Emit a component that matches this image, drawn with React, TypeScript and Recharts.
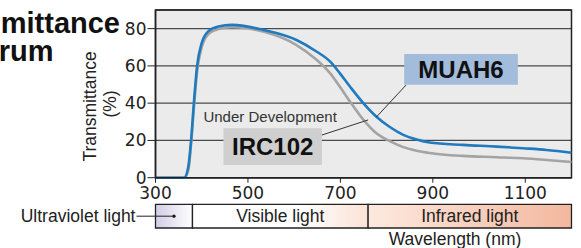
import React from 'react'
import {
  LineChart, Line, XAxis, YAxis, CartesianGrid, ReferenceArea, ReferenceLine,
} from 'recharts'

// wavelength (nm) sampled along the curves
const wavelengths = [300, 362, 371, 377, 383, 390, 400, 414, 436, 465, 533, 605, 649, 678, 699, 721, 750, 778, 807, 836, 865, 893, 965, 1038, 1095, 1146, 1200]
// transmittance (%)
const muah6 = [0, 0, 5.9, 20, 40, 60, 72.3, 78.5, 81.2, 82.0, 79.3, 73.9, 67.6, 62.3, 56, 48.8, 39.9, 32.7, 27.2, 23, 20.5, 18.9, 17.6, 16.7, 15.8, 14.9, 13.4]
const irc102 = [0, 0, 4, 18, 37, 57, 70, 77, 79.8, 80.8, 78.4, 71.2, 63.2, 56, 48.8, 40.8, 31, 23.8, 19.6, 16.4, 14.5, 13.3, 11.7, 11, 10.4, 9.5, 8.4]

const xTicks = [300, 500, 700, 900, 1100]
const yTicks = [0, 20, 40, 60, 80]

// light bands under the axis
const bandNames = ['Ultraviolet light', 'Visible light', 'Infrared light']
const bandStarts = [300, 380, 760]
const bandEnds = [380, 760, 1200]
const bandFills = ['url(#uvGrad)', 'url(#visGrad)', 'url(#irGrad)']

const data = wavelengths.map((nm, i) => ({ nm, muah6: muah6[i], irc102: irc102[i] }))

const SANS = '"Liberation Sans", Arial, sans-serif'
const TICK_FONT = '"DejaVu Sans", sans-serif'

const BandLabel = (name: string, first: boolean) => (props: any) => {
  const { x, y, width, height } = props.viewBox
  const cy = y + height / 2
  if (first) {
    const cx = x + width / 2
    return (
      <g>
        <circle cx={cx} cy={cy} r={1.6} fill="#111" />
        <line x1={x - 19} y1={cy} x2={cx} y2={cy} stroke="#222" strokeWidth={1} />
        <text x={x - 20} y={cy + 6} textAnchor="end" fontFamily={SANS} fontSize={17.5} fill="#222">{name}</text>
      </g>
    )
  }
  return (
    <text x={x + width / 2} y={cy + 6} textAnchor="middle" fontFamily={SANS} fontSize={17.5} fill="#222">{name}</text>
  )
}

const BoxLabel = (name: string, note?: string) => (props: any) => {
  const { x, y, width, height } = props.viewBox
  return (
    <g>
      {note && (
        <text x={x - 20} y={y - 6.6} fontFamily={SANS} fontSize={15} fill="#333">{note}</text>
      )}
      <text x={x + width / 2} y={y + height / 2 + 8.5} textAnchor="middle" fontFamily={SANS} fontWeight="bold" fontSize={24} fill="#111">{name}</text>
    </g>
  )
}

export default function App() {
  return (
    <div style={{ position: 'absolute', left: 0, top: 0, width: 581, height: 248, overflow: 'hidden', background: '#fff' }}>
      <LineChart width={581} height={248} data={data} margin={{ top: 10, right: 9.5, left: 0, bottom: 0 }}>
        <defs>
          <linearGradient id="uvGrad" x1="0" y1="0" x2="1" y2="0">
            <stop offset="0%" stopColor="#d3cde6" />
            <stop offset="100%" stopColor="#ffffff" />
          </linearGradient>
          <linearGradient id="visGrad" x1="0" y1="0" x2="1" y2="0">
            <stop offset="0%" stopColor="#ffffff" />
            <stop offset="60%" stopColor="#ffffff" />
            <stop offset="100%" stopColor="#fbe2d6" />
          </linearGradient>
          <linearGradient id="irGrad" x1="0" y1="0" x2="1" y2="0">
            <stop offset="0%" stopColor="#fde9df" />
            <stop offset="100%" stopColor="#f3b89e" />
          </linearGradient>
        </defs>
        <CartesianGrid vertical={false} fill="#ebebeb" stroke="#4a4a4a" strokeWidth={1.3} />
        <XAxis
          dataKey="nm"
          type="number"
          domain={[300, 1200]}
          ticks={xTicks}
          height={70.3}
          tickSize={5}
          tickMargin={4}
          axisLine={{ stroke: '#222', strokeWidth: 1.5 }}
          tickLine={{ stroke: '#222' }}
          tick={{ fill: '#222', fontSize: 17, fontFamily: TICK_FONT }}
          label={(props: any) => {
            const { x, y, width } = props.viewBox
            return (
              <text x={x + width * 0.72} y={y + 67} textAnchor="middle" fontFamily={SANS} fontSize={17.5} fill="#222">Wavelength (nm)</text>
            )
          }}
        />
        <YAxis
          domain={[0, 90]}
          ticks={yTicks}
          width={155.5}
          tickSize={8}
          tickMargin={1}
          axisLine={{ stroke: '#222', strokeWidth: 1.5 }}
          tickLine={{ stroke: '#222' }}
          tick={{ fill: '#222', fontSize: 17, fontFamily: TICK_FONT }}
          label={(props: any) => {
            const { x, y } = props.viewBox
            return (
              <g fontFamily={SANS} fontSize={17.5} fill="#222" textAnchor="middle">
                <text transform={`translate(${x + 96},${y + 96.5}) rotate(-90)`}>Transmittance</text>
                <text transform={`translate(${x + 116},${y + 94}) rotate(-90)`}>(%)</text>
              </g>
            )
          }}
        />
        <Line dataKey="irc102" type="monotone" stroke="#a4a4a4" strokeWidth={2.6} dot={false} isAnimationActive={false} />
        <Line dataKey="muah6" type="monotone" stroke="#1f7abf" strokeWidth={2.6} dot={false} isAnimationActive={false} />
        <ReferenceArea x1={300} x2={1200} y1={0} y2={90} fill="none" stroke="#222" strokeWidth={1.5} ifOverflow="visible" />
        <ReferenceArea x1={447} x2={660} y1={6.8} y2={26.5} fill="#cfcfcf" fillOpacity={1} ifOverflow="visible" label={BoxLabel('IRC102', 'Under Development')} />
        <ReferenceArea x1={838} x2={1084} y1={49.9} y2={66.4} fill="#a3bcdc" fillOpacity={1} ifOverflow="visible" label={BoxLabel('MUAH6')} />
        <ReferenceLine segment={[{ x: 660, y: 22.9 }, { x: 760, y: 31 }]} stroke="#333" strokeWidth={1} ifOverflow="visible" />
        <ReferenceLine segment={[{ x: 842, y: 49.7 }, { x: 778, y: 32.6 }]} stroke="#333" strokeWidth={1} ifOverflow="visible" />
        {bandNames.map((name, i) => (
          <ReferenceArea
            key={name}
            x1={bandStarts[i]}
            x2={bandEnds[i]}
            y1={-27}
            y2={-14.3}
            fill={bandFills[i]}
            fillOpacity={1}
            stroke="#222"
            strokeWidth={1.3}
            ifOverflow="visible"
            label={BandLabel(name, i === 0)}
          />
        ))}
      </LineChart>
      <svg width={581} height={248} style={{ position: 'absolute', left: 0, top: 0, pointerEvents: 'none' }}>
        <g fontFamily={SANS} fontWeight="bold" fontSize={29} fill="#111" textAnchor="end">
          <text x={120} y={33}>Transmittance</text>
          <text x={53.5} y={61}>Spectrum</text>
        </g>
      </svg>
    </div>
  )
}
